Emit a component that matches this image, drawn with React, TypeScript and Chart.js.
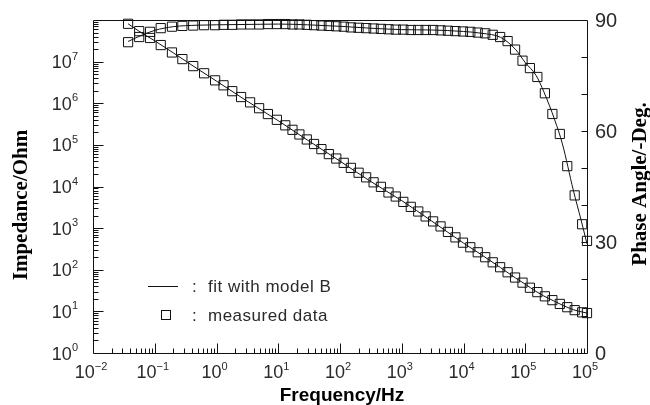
import React, { useEffect, useRef } from "react";
import { Chart, registerables } from "chart.js";

Chart.register(...registerables);

// ---- data ----
const frequencyHz = [
  0.037, 0.056, 0.084, 0.125, 0.19, 0.28, 0.42, 0.63, 0.95, 1.3, 1.8, 2.5, 3.5, 4.9, 6.8, 9.5,
  13, 17, 22, 29, 38, 50, 66, 87, 115, 150, 200, 265, 350, 460, 610, 800, 1060, 1400, 1850,
  2440, 3220, 4250, 5600, 7400, 9800, 12900, 17000, 22500, 29700, 39200, 51800, 68400, 90300,
  119000, 157000, 208000, 275000, 363000, 479000, 632000, 835000, 1000000,
];
const impedanceOhm = [
  8.1e7, 5.4e7, 3.7e7, 2.5e7, 1.66e7, 1.15e7, 7.8e6, 5.25e6, 3.55e6, 2.7e6, 1.95e6, 1.41e6,
  1.05e6, 7.6e5, 5.5e5, 4.0e5, 2.95e5, 2.3e5, 1.78e5, 1.35e5, 1.05e5, 7.9e4, 6.0e4, 4.7e4,
  3.7e4, 2.8e4, 2.14e4, 1.66e4, 1.26e4, 9800, 7200, 5750, 4270, 3240, 2510, 1910, 1450, 1100,
  810, 600, 447, 347, 263, 200, 151, 115, 87, 65, 49, 37, 29, 23, 18.6, 15.1, 12.6, 10.7, 9.5, 9.1,
];
const phaseDeg = [
  84.0, 85.4, 86.8, 87.8, 88.2, 88.4, 88.5, 88.6, 88.6, 88.7, 88.7, 88.8, 88.8, 88.8, 88.9, 88.9,
  88.9, 88.8, 88.8, 88.7, 88.6, 88.5, 88.4, 88.3, 88.2, 88.0, 87.9, 87.8, 87.7, 87.6, 87.5, 87.4,
  87.4, 87.3, 87.3, 87.3, 87.3, 87.2, 87.1, 87.0, 86.9, 86.8, 86.6, 86.4, 86.0, 85.4, 84.3, 82.0,
  79.0, 77.0, 74.6, 70.2, 64.6, 59.2, 50.5, 42.6, 34.8, 30.3,
];
const fitFrequencyHz = [
  0.037, 0.06, 0.1, 0.2, 0.5, 1, 3, 10, 30, 100, 300, 1000, 3000, 10000, 20000, 40000, 70000,
  100000, 150000, 200000, 300000, 400000, 600000, 800000, 1000000,
];
const fitImpedanceOhm = [
  8.1e7, 5.0e7, 3.16e7, 1.62e7, 6.6e6, 3.4e6, 1.17e6, 3.8e5, 1.29e5, 4.07e4, 1.38e4, 4570, 1510,
  437, 224, 112, 63, 45, 30, 23.4, 17.4, 14.1, 11, 9.8, 9.1,
];
const fitPhaseDeg = [
  84.2, 85.8, 87.2, 88.2, 88.6, 88.7, 88.8, 88.9, 88.7, 88.3, 87.8, 87.4, 87.3, 86.9, 86.4, 85.3,
  82.0, 78.5, 75.0, 70.6, 63.0, 56.5, 44.0, 36.0, 29.5,
];

// axis ticks / labels
const xTickValues = [0.01, 0.1, 1, 10, 100, 1000, 10000, 100000, 1000000];
const xTickExponents = ["\u22122", "\u22121", "0", "1", "2", "3", "4", "5", "5"];
const yTickValues = [1, 10, 100, 1000, 10000, 100000, 1000000, 10000000];
const yTickExponents = ["0", "1", "2", "3", "4", "5", "6", "7"];
const phaseTickValues = [0, 30, 60, 90];
const phaseMinorValues = [10, 20, 30, 40, 50, 60, 70, 80];
const legendLabels = ["fit with model B", "measured data"];
const xTitle = "Frequency/Hz";
const yTitle = "Impedance/Ohm";
const y2Title = "Phase Angle/-Deg.";

const SANS = '"Liberation Sans", Arial, sans-serif';
const SERIF = '"Liberation Serif", "Times New Roman", serif';

function drawPow(
  ctx: CanvasRenderingContext2D,
  exp: string,
  x: number,
  baseline: number,
  align: "right" | "center" | "left",
  baseSize: number,
  supSize: number,
  rise: number
) {
  const baseFont = `${baseSize}px ${SANS}`;
  const supFont = `${supSize}px ${SANS}`;
  ctx.font = baseFont;
  const wb = ctx.measureText("10").width;
  ctx.font = supFont;
  const ws = ctx.measureText(exp).width;
  const total = wb + ws;
  const x0 = align === "right" ? x - total : align === "center" ? x - total / 2 : x;
  ctx.textAlign = "left";
  ctx.textBaseline = "alphabetic";
  ctx.font = baseFont;
  ctx.fillText("10", x0, baseline);
  ctx.font = supFont;
  ctx.fillText(exp, x0 + wb, baseline - rise);
}

const decorPlugin = {
  id: "decor",
  afterDraw(chart: any) {
    const ctx: CanvasRenderingContext2D = chart.ctx;
    const { left, top, right, bottom } = chart.chartArea;
    const xs = chart.scales.x;
    const ys = chart.scales.y;
    const y2 = chart.scales.y2;
    const L = Math.round(left) + 0.5;
    const R = Math.round(right) + 0.5;
    const T = Math.round(top) + 0.5;
    const B = Math.round(bottom) + 0.5;
    ctx.save();
    ctx.strokeStyle = "#111";
    ctx.lineWidth = 1;
    ctx.beginPath();
    ctx.moveTo(L, T);
    ctx.lineTo(R, T);
    ctx.lineTo(R, B);
    ctx.lineTo(L, B);
    ctx.closePath();
    ctx.stroke();

    // left axis ticks (inward)
    ctx.beginPath();
    for (let d = 0; d < 8; d++) {
      for (let m = 1; m <= 9; m++) {
        const v = m * Math.pow(10, d);
        if (d === 0 && m === 1) continue;
        const y = Math.round(ys.getPixelForValue(v)) + 0.5;
        const len = m === 1 ? 10 : 5;
        ctx.moveTo(L, y);
        ctx.lineTo(L + len, y);
      }
    }
    // bottom axis ticks (inward)
    for (let d = -2; d < 6; d++) {
      for (let m = 1; m <= 9; m++) {
        if (d === -2 && m === 1) continue;
        const v = m * Math.pow(10, d);
        const x = Math.round(xs.getPixelForValue(v)) + 0.5;
        const len = m === 1 ? 10 : 5;
        ctx.moveTo(x, B);
        ctx.lineTo(x, B - len);
      }
    }
    // right axis ticks
    for (const p of phaseMinorValues) {
      const y = Math.round(y2.getPixelForValue(p)) + 0.5;
      ctx.moveTo(R, y);
      ctx.lineTo(R - 6, y);
    }
    ctx.stroke();

    // tick labels
    ctx.fillStyle = "#2a2a2a";
    yTickValues.forEach((v, i) => {
      const y = ys.getPixelForValue(v);
      drawPow(ctx, yTickExponents[i], 78, y + 6.5, "right", 18, 11, 8.5);
    });
    xTickValues.forEach((v, i) => {
      const x = xs.getPixelForValue(v);
      drawPow(ctx, xTickExponents[i], x - 2, 378, "center", 18, 11, 8);
    });
    ctx.font = `20px ${SANS}`;
    ctx.textAlign = "left";
    ctx.textBaseline = "alphabetic";
    phaseTickValues.forEach((v) => {
      const y = y2.getPixelForValue(v);
      ctx.fillText(String(v), 595, y + 7);
    });

    // axis titles
    ctx.fillStyle = "#000";
    ctx.font = `bold 21px ${SERIF}`;
    ctx.textAlign = "center";
    ctx.textBaseline = "middle";
    ctx.save();
    ctx.translate(22, 205);
    ctx.rotate(-Math.PI / 2);
    ctx.fillText(yTitle, 0, 0);
    ctx.restore();
    ctx.save();
    ctx.translate(641, 184);
    ctx.rotate(-Math.PI / 2);
    ctx.fillText(y2Title, 0, 0);
    ctx.restore();
    ctx.font = `bold 19px ${SANS}`;
    ctx.textBaseline = "alphabetic";
    ctx.fillText(xTitle, 342, 401);

    // legend
    ctx.strokeStyle = "#111";
    ctx.beginPath();
    ctx.moveTo(148, 286.5);
    ctx.lineTo(178, 286.5);
    ctx.stroke();
    ctx.strokeRect(161.5, 310.5, 9, 9);
    ctx.fillStyle = "#2a2a2a";
    ctx.font = `17px ${SANS}`;
    ctx.textAlign = "left";
    ctx.textBaseline = "alphabetic";
    (ctx as any).letterSpacing = "0.5px";
    ctx.fillText(":", 192, 292);
    ctx.fillText(legendLabels[0], 208, 292);
    ctx.fillText(":", 192, 321);
    ctx.fillText(legendLabels[1], 208, 321);
    ctx.restore();
  },
};

export default function App() {
  const ref = useRef<HTMLCanvasElement | null>(null);
  useEffect(() => {
    if (!ref.current) return;
    const pts = (xs: number[], ys: number[]) => xs.map((x, i) => ({ x, y: ys[i] }));
    const marker = {
      showLine: false,
      pointStyle: "rect" as const,
      pointRadius: 6.5,
      pointBorderWidth: 1,
      pointBorderColor: "#111",
      pointBackgroundColor: "rgba(0,0,0,0)",
      borderColor: "#111",
      clip: false as any,
    };
    const line = {
      showLine: true,
      pointRadius: 0,
      borderWidth: 1,
      borderColor: "#111",
      cubicInterpolationMode: "monotone" as const,
      clip: false as any,
    };
    const chart = new Chart(ref.current, {
      type: "line",
      data: {
        datasets: [
          { label: "impedance fit", data: pts(fitFrequencyHz, fitImpedanceOhm), yAxisID: "y", ...line },
          { label: "phase fit", data: pts(fitFrequencyHz, fitPhaseDeg), yAxisID: "y2", ...line },
          { label: "impedance measured", data: pts(frequencyHz, impedanceOhm), yAxisID: "y", ...marker },
          { label: "phase measured", data: pts(frequencyHz, phaseDeg), yAxisID: "y2", ...marker },
        ] as any,
      },
      options: {
        responsive: false,
        animation: false,
        layout: { padding: { left: 93, right: 63, top: 20, bottom: 52 } },
        plugins: { legend: { display: false }, tooltip: { enabled: false } },
        scales: {
          x: { type: "logarithmic", min: 0.01, max: 1000000, display: false },
          y: { type: "logarithmic", min: 1, max: 100000000, display: false },
          y2: { type: "linear", min: 0, max: 90, display: false },
        },
      },
      plugins: [decorPlugin],
    });
    return () => chart.destroy();
  }, []);
  return (
    <div style={{ position: "absolute", left: 0, top: 0, width: 650, height: 405, background: "#fff" }}>
      <canvas ref={ref} width={650} height={405} style={{ display: "block" }} />
    </div>
  );
}
